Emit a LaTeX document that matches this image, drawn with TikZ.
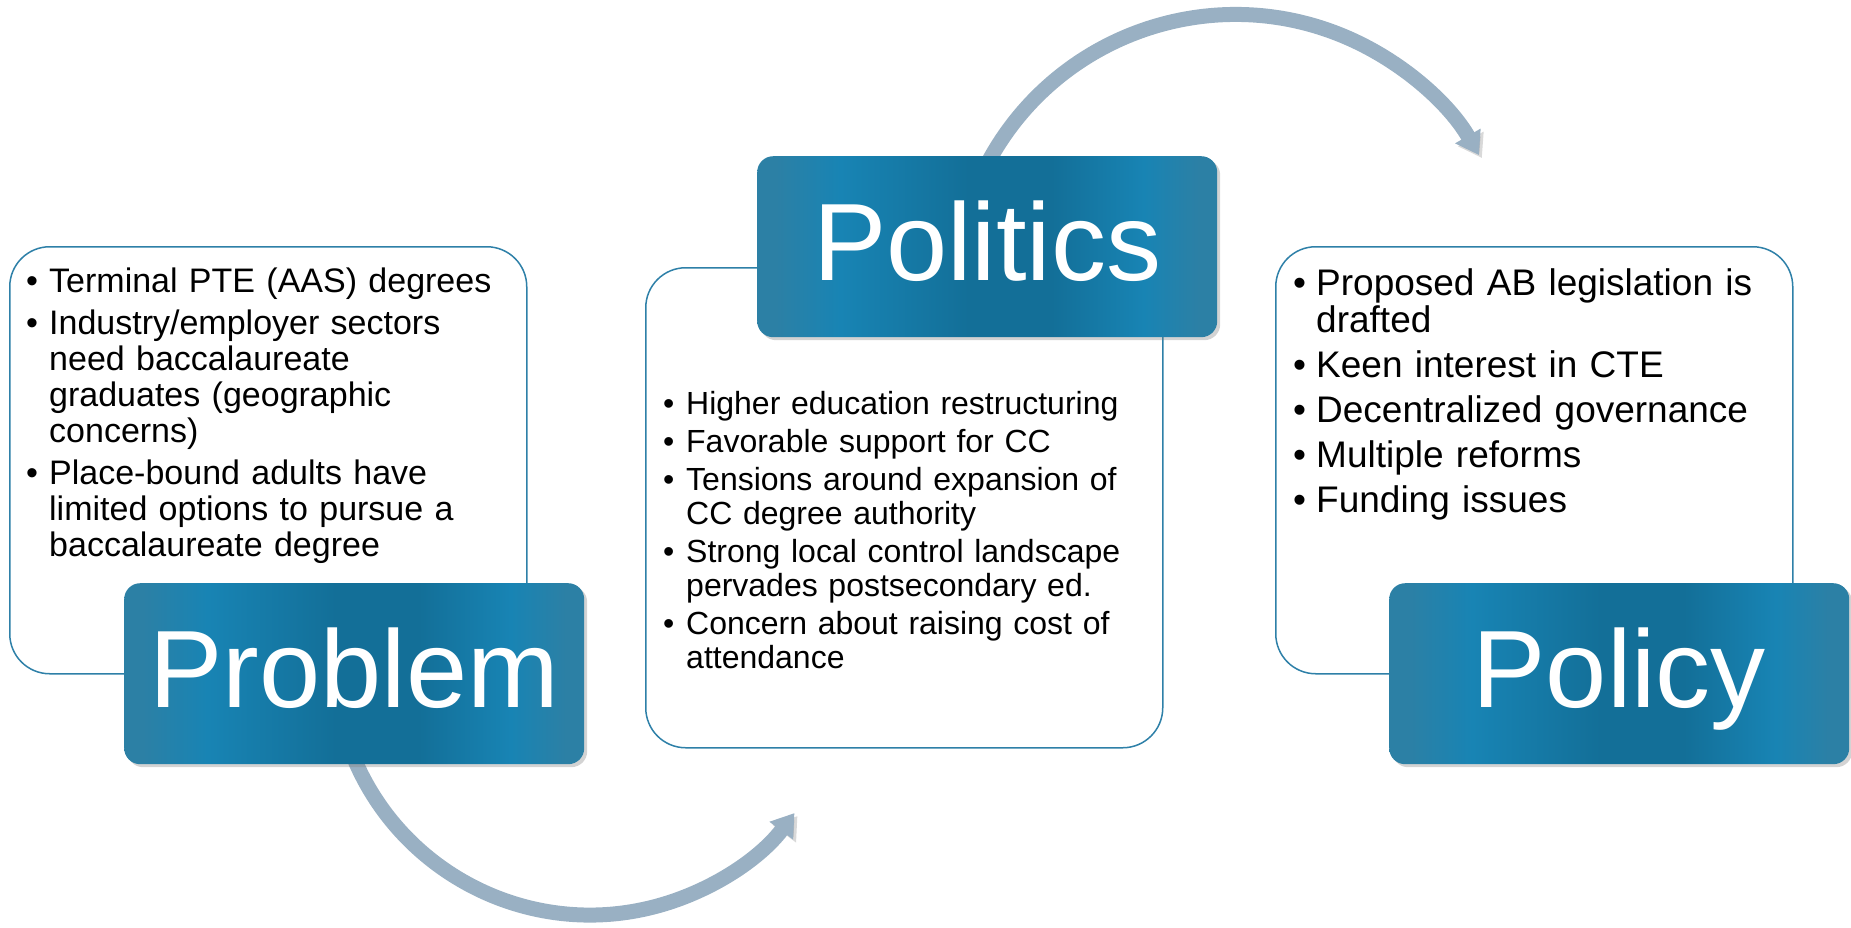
\documentclass[tikz,border=0pt]{standalone}
\usepackage{fontspec}
\setmainfont{Liberation Sans}
\usetikzlibrary{arrows.meta, shadows}

\definecolor{boxline}{RGB}{46,128,168}
\definecolor{titleedge}{RGB}{44,128,165}
\definecolor{titlelight}{RGB}{24,132,180}
\definecolor{titledark}{RGB}{19,111,152}
\definecolor{flowblue}{RGB}{153,176,195}

\pgfdeclarehorizontalshading{titlefill}{100bp}{color(0bp)=(titleedge); color(25bp)=(titleedge); color(27bp)=(titleedge); color(34bp)=(titlelight); color(48bp)=(titledark); color(57bp)=(titledark); color(67bp)=(titlelight); color(73bp)=(titleedge); color(100bp)=(titleedge)}

\newcommand{\bitem}[1]{\par\noindent\hangindent=23pt\hangafter=1\makebox[23pt][l]{\textbullet}#1}

\begin{document}
\begin{tikzpicture}[
  x=1pt, y=-1pt,
  listbox/.style  = {draw=boxline, line width=1.5pt, fill=white, rounded corners=40pt,
                     minimum width=517pt, inner sep=0pt, anchor=north west},
  titlebox/.style = {shade, shading=titlefill, rounded corners=16pt, minimum width=460pt,
                     minimum height=181pt, inner sep=0pt, anchor=north west, text=white,
                     font=\fontsize{110}{120}\selectfont, text height=80pt, text depth=13pt,
                     drop shadow={shadow xshift=3pt, shadow yshift=-3pt, opacity=.35}},
  items/.style    = {text width=490pt, inner sep=0pt, anchor=base west},
  flow/.style     = {line width=15pt, draw=flowblue, -{Triangle[length=22pt, width=28pt]},
                     preaction={draw=black!50, opacity=.3, transform canvas={xshift=3pt, yshift=-3pt}}},
]
  \useasboundingbox (0,0) rectangle (1851,927);

  % circle centres of the two curved arrows
  \coordinate (lowhub)  at (590,659);
  \coordinate (highhub) at (1235.5,295.5);

  \draw[flow] ([shift={(165:256)}]lowhub) arc[start angle=165, end angle=37, radius=256];
  \draw[flow] ([shift={(-155:281)}]highhub) arc[start angle=-155, end angle=-30, radius=281];

  \node[listbox, minimum height=427pt] (problemnotes)  at (9,246)    {};
  \node[listbox, minimum height=480pt] (politicsnotes) at (645,267)  {};
  \node[listbox, minimum height=427pt] (policynotes)   at (1275,246) {};

  \node[items, font=\fontsize{34}{36}\selectfont\setlength{\parskip}{6pt}] (problemlist) at (26,250) {%
    \bitem{Terminal PTE (AAS) degrees}
    \bitem{Industry/employer sectors\newline need baccalaureate\newline graduates (geographic\newline concerns)}
    \bitem{Place-bound adults have\newline limited options to pursue a\newline baccalaureate degree}\par};

  \node[items, font=\fontsize{32}{34}\selectfont\setlength{\parskip}{4pt}] (politicslist) at (663,376) {%
    \bitem{Higher education restructuring}
    \bitem{Favorable support for CC}
    \bitem{Tensions around expansion of\newline CC degree authority}
    \bitem{Strong local control landscape\newline pervades postsecondary ed.}
    \bitem{Concern about raising cost of\newline attendance}\par};

  \node[items, font=\fontsize{37}{37}\selectfont\setlength{\parskip}{8pt}] (policylist) at (1293,250) {%
    \bitem{Proposed AB legislation is\newline drafted}
    \bitem{Keen interest in CTE}
    \bitem{Decentralized governance}
    \bitem{Multiple reforms}
    \bitem{Funding issues}\par};

  \node[titlebox] (problem)  at (124,583)  {Problem};
  \node[titlebox] (politics) at (757,156)  {Politics};
  \node[titlebox] (policy)   at (1389,583) {Policy};
\end{tikzpicture}
\end{document}
